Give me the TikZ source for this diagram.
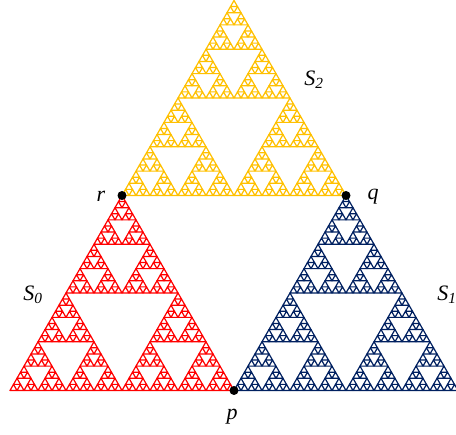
\documentclass[tikz,border=0pt]{standalone}
\usepackage{fontspec}
\setmainfont{Liberation Serif}
\usetikzlibrary{positioning}
\definecolor{sred}{HTML}{FF0000}
\definecolor{sblue}{HTML}{002060}
\definecolor{sgold}{HTML}{FFC000}

% level, x, y (lower left corner), width, height
\newcommand\sierp[5]{%
  \ifnum#1=0
    \draw (#2,#3) -- ++(#4,0) -- ++(-#4/2,#5) -- cycle;
  \else
    \begingroup
    \pgfmathtruncatemacro\lvl{#1-1}%
    \pgfmathsetmacro\hw{#4/2}%
    \pgfmathsetmacro\hh{#5/2}%
    \pgfmathsetmacro\xb{#2+#4/2}%
    \pgfmathsetmacro\xc{#2+#4/4}%
    \pgfmathsetmacro\yc{#3+#5/2}%
    \edef\next{\noexpand\sierp{\lvl}{#2}{#3}{\hw}{\hh}%
      \noexpand\sierp{\lvl}{\xb}{#3}{\hw}{\hh}%
      \noexpand\sierp{\lvl}{\xc}{\yc}{\hw}{\hh}}%
    \expandafter\endgroup\next
  \fi}

\begin{document}
\begin{tikzpicture}[x=1pt,y=1pt,
  lbl/.style={font=\fontsize{22}{26}\selectfont\itshape,inner sep=0pt},
  dot/.style={circle,fill=black,inner sep=0pt,minimum size=9pt},
  tri/.style={line width=1.2pt,line join=round}]
\useasboundingbox (0,0) rectangle (456,435);
% the three copies
\begin{scope}[tri,color=sred]
\sierp{5}{10}{44.5}{224}{195}
\end{scope}
\begin{scope}[tri,color=sblue]
\sierp{5}{234}{44.5}{224}{195}
\end{scope}
\begin{scope}[tri,color=sgold]
\sierp{5}{122}{239.5}{224}{195}
\end{scope}
% contact points
\node[dot] (p) at (234,44.5) {};
\node[dot] (q) at (346,239.5) {};
\node[dot] (r) at (122,239.5) {};
\node[lbl] (lp) at (232,18) {p};
\node[lbl] (lq) at (373,238) {q};
\node[lbl] (lr) at (101,239) {r};
\node[lbl] (s0) at (33,140) {S\textsubscript{0}};
\node[lbl] (s1) at (447,140) {S\textsubscript{1}};
\node[lbl] (s2) at (314,355) {S\textsubscript{2}};
\end{tikzpicture}
\end{document}
